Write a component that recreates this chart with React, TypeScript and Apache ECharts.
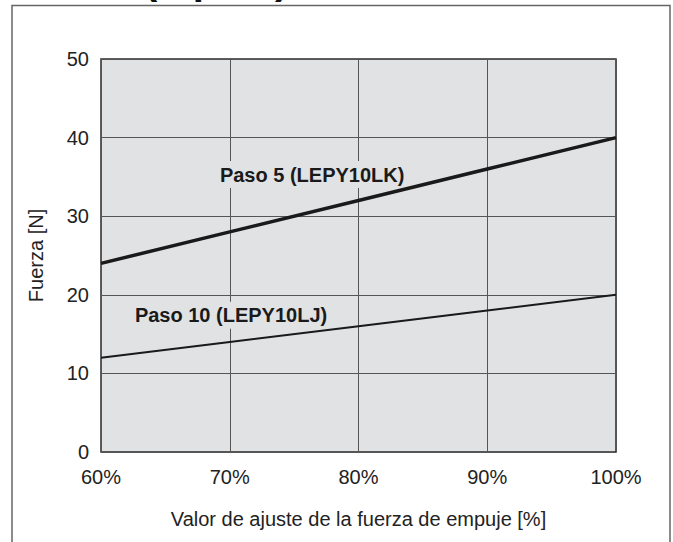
import React, { useEffect, useRef } from "react";
import * as echarts from "echarts";

const xValues = [60, 70, 80, 90, 100];
const paso5 = [24, 28, 32, 36, 40];
const paso10 = [12, 14, 16, 18, 20];
const paso5Label = "Paso 5 (LEPY10LK)";
const paso10Label = "Paso 10 (LEPY10LJ)";
const paso5LabelAt = [76.4, 35.3];
const paso10LabelAt = [70.1, 17.4];
const xAxisName = "Valor de ajuste de la fuerza de empuje [%]";
const yAxisName = "Fuerza [N]";
const titleText = "(Típico)";

const FONT = "'Liberation Sans', Arial, Helvetica, sans-serif";
const PLOT_BG = "#e1e2e4";

export default function App() {
  const ref = useRef<HTMLDivElement>(null);
  useEffect(() => {
    if (!ref.current) return;
    const chart = echarts.init(ref.current, null, { renderer: "svg" });
    const labelStyle = {
      show: true,
      position: "inside" as const,
      fontFamily: FONT,
      fontSize: 20,
      fontWeight: "bold" as const,
      color: "#1a1a1a",
      backgroundColor: PLOT_BG,
      padding: [5, 4, 2, 4],
    };
    chart.setOption({
      animation: false,
      backgroundColor: "#ffffff",
      textStyle: { fontFamily: FONT },
      grid: {
        left: 101,
        right: 57,
        top: 59,
        bottom: 90,
        show: true,
        backgroundColor: PLOT_BG,
        borderColor: "#2a2a2a",
        borderWidth: 1.5,
      },
      xAxis: {
        type: "value",
        min: 60,
        max: 100,
        interval: 10,
        name: xAxisName,
        nameLocation: "middle",
        nameGap: 57,
        nameTextStyle: { fontFamily: FONT, fontSize: 20, color: "#222" },
        axisLine: { show: false },
        axisTick: { show: false },
        axisLabel: {
          formatter: "{value}%",
          fontFamily: FONT,
          fontSize: 20,
          color: "#222",
          margin: 15,
        },
        splitLine: { show: true, lineStyle: { color: "#555", width: 1 } },
      },
      yAxis: {
        type: "value",
        min: 0,
        max: 50,
        interval: 10,
        name: yAxisName,
        nameLocation: "middle",
        nameGap: 55,
        nameRotate: 90,
        nameTextStyle: { fontFamily: FONT, fontSize: 20, color: "#222" },
        axisLine: { show: false },
        axisTick: { show: false },
        axisLabel: {
          fontFamily: FONT,
          fontSize: 20,
          color: "#222",
          margin: 12,
        },
        splitLine: { show: true, lineStyle: { color: "#555", width: 1 } },
      },
      series: [
        {
          type: "line",
          name: paso5Label,
          data: xValues.map((x, i) => [x, paso5[i]]),
          symbol: "none",
          lineStyle: { color: "#1a1a1a", width: 3.5 },
          z: 4,
          markPoint: {
            symbol: "rect",
            symbolSize: 1,
            itemStyle: { color: "rgba(0,0,0,0)" },
            label: { ...labelStyle, formatter: paso5Label },
            data: [{ coord: paso5LabelAt }],
            z: 1,
          },
        },
        {
          type: "line",
          name: paso10Label,
          data: xValues.map((x, i) => [x, paso10[i]]),
          symbol: "none",
          lineStyle: { color: "#1a1a1a", width: 2 },
          z: 4,
          markPoint: {
            symbol: "rect",
            symbolSize: 1,
            itemStyle: { color: "rgba(0,0,0,0)" },
            label: { ...labelStyle, formatter: paso10Label },
            data: [{ coord: paso10LabelAt }],
            z: 1,
          },
        },
      ],
      graphic: [
        {
          type: "rect",
          shape: { x: 12, y: 5.5, width: 658, height: 600 },
          style: { fill: "none", stroke: "#666", lineWidth: 1.5 },
          z: 10,
        },
        {
          type: "text",
          x: 144,
          y: 0,
          style: {
            text: titleText,
            fontFamily: FONT,
            fontSize: 40,
            fontWeight: "bold",
            fill: "#111",
            textVerticalAlign: "bottom",
          },
          z: 10,
        },
      ],
    });
    return () => chart.dispose();
  }, []);
  return (
    <div
      ref={ref}
      style={{ position: "absolute", left: 0, top: 0, width: 673, height: 542 }}
    />
  );
}
